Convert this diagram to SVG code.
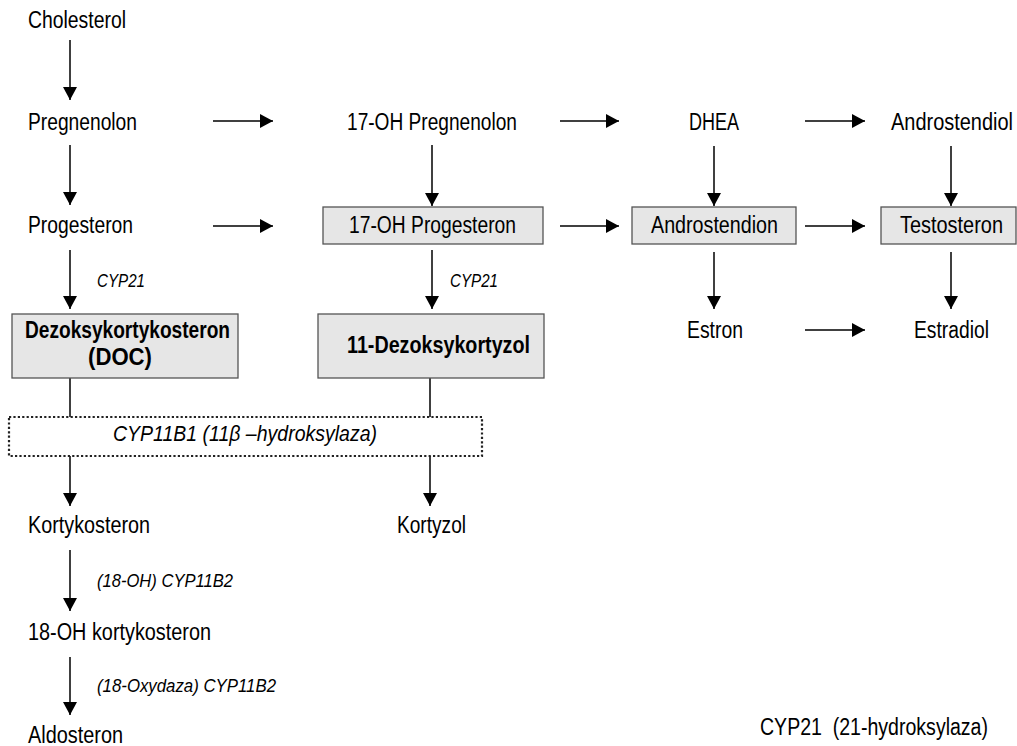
<svg xmlns="http://www.w3.org/2000/svg" width="1017" height="746" viewBox="0 0 1017 746">
<defs>
<style>
text{font-family:"Liberation Sans","Arial",sans-serif;font-size:23px;fill:#000}
.b{font-weight:bold}
.i{font-style:italic;font-size:19px}
.m{text-anchor:middle}
.box{fill:#e6e6e6;stroke:#555;stroke-width:1.3}
.dot{fill:none;stroke:#222;stroke-width:2.2;stroke-dasharray:2.2 2.2}
.c line{stroke:#000;stroke-width:1.5}
.c .a{marker-end:url(#ah)}
</style>
<marker id="ah" markerUnits="userSpaceOnUse" markerWidth="14" markerHeight="14" refX="13" refY="7" orient="auto">
<path d="M0,0 L13,7 L0,14 z" fill="#000"/>
</marker>
</defs>
<g class="c" id="connectors">
<line class="a" x1="70" y1="40" x2="70" y2="100"/>
<line class="a" x1="70" y1="145" x2="70" y2="205"/>
<line class="a" x1="70" y1="250" x2="70" y2="309"/>
<line class="a" x1="432" y1="145" x2="432" y2="206"/>
<line class="a" x1="432" y1="250" x2="432" y2="309"/>
<line class="a" x1="714" y1="146" x2="714" y2="206"/>
<line class="a" x1="714" y1="252" x2="714" y2="309"/>
<line class="a" x1="951" y1="146" x2="951" y2="206"/>
<line class="a" x1="951" y1="252" x2="951" y2="309"/>
<line class="a" x1="213" y1="121" x2="273" y2="121"/>
<line class="a" x1="560" y1="121" x2="619" y2="121"/>
<line class="a" x1="805" y1="121" x2="865" y2="121"/>
<line class="a" x1="213" y1="226" x2="273" y2="226"/>
<line class="a" x1="560" y1="226" x2="619" y2="226"/>
<line class="a" x1="805" y1="226" x2="865" y2="226"/>
<line class="a" x1="805" y1="330" x2="865" y2="330"/>
<line x1="70" y1="378" x2="70" y2="417"/>
<line x1="430" y1="378" x2="430" y2="417"/>
<line class="a" x1="70" y1="456" x2="70" y2="506"/>
<line class="a" x1="430" y1="456" x2="430" y2="506"/>
<line class="a" x1="70" y1="550" x2="70" y2="611"/>
<line class="a" x1="70" y1="657" x2="70" y2="715"/>
</g>
<g id="cholesterol"><text x="28" y="28" textLength="98" lengthAdjust="spacingAndGlyphs">Cholesterol</text></g>
<g id="pregnenolon"><text x="28" y="130" textLength="109" lengthAdjust="spacingAndGlyphs">Pregnenolon</text></g>
<g id="oh17-pregnenolon"><text x="347" y="130" textLength="170" lengthAdjust="spacingAndGlyphs">17-OH Pregnenolon</text></g>
<g id="dhea"><text x="689" y="130" textLength="50" lengthAdjust="spacingAndGlyphs">DHEA</text></g>
<g id="androstendiol"><text x="891" y="130" textLength="122" lengthAdjust="spacingAndGlyphs">Androstendiol</text></g>
<g id="progesteron"><text x="28" y="233" textLength="105" lengthAdjust="spacingAndGlyphs">Progesteron</text></g>
<g id="oh17-progesteron"><rect class="box" x="323" y="207" width="220" height="37"/><text x="349" y="233" textLength="167" lengthAdjust="spacingAndGlyphs">17-OH Progesteron</text></g>
<g id="androstendion"><rect class="box" x="632" y="207" width="164" height="37"/><text x="651" y="233" textLength="127" lengthAdjust="spacingAndGlyphs">Androstendion</text></g>
<g id="testosteron"><rect class="box" x="881" y="207" width="135" height="37"/><text x="900" y="233" textLength="103" lengthAdjust="spacingAndGlyphs">Testosteron</text></g>
<g id="estron"><text x="687" y="338" textLength="56" lengthAdjust="spacingAndGlyphs">Estron</text></g>
<g id="estradiol"><text x="914" y="338" textLength="75" lengthAdjust="spacingAndGlyphs">Estradiol</text></g>
<g id="doc"><rect class="box" x="12" y="314" width="226" height="64"/><text x="25" y="338" class="b" textLength="205" lengthAdjust="spacingAndGlyphs">Dezoksykortykosteron</text><text x="88" y="365" class="b" textLength="64" lengthAdjust="spacingAndGlyphs">(DOC)</text></g>
<g id="dezoksykortyzol"><rect class="box" x="318" y="314" width="226" height="64"/><text x="347" y="353" class="b" textLength="183" lengthAdjust="spacingAndGlyphs">11-Dezoksykortyzol</text></g>
<g id="label-cyp21-a"><text x="97" y="287" class="i" textLength="48" lengthAdjust="spacingAndGlyphs">CYP21</text></g>
<g id="label-cyp21-b"><text x="450" y="287" class="i" textLength="48" lengthAdjust="spacingAndGlyphs">CYP21</text></g>
<g id="cyp11b1"><rect class="dot" x="9" y="417" width="473" height="39"/><text x="113" y="441" class="i" style="font-size:22px" textLength="264" lengthAdjust="spacingAndGlyphs">CYP11B1 (11β –hydroksylaza)</text></g>
<g id="kortykosteron"><text x="28" y="533" textLength="122" lengthAdjust="spacingAndGlyphs">Kortykosteron</text></g>
<g id="kortyzol"><text x="397" y="533" textLength="69" lengthAdjust="spacingAndGlyphs">Kortyzol</text></g>
<g id="label-18oh"><text x="97" y="587" class="i" textLength="136" lengthAdjust="spacingAndGlyphs">(18-OH) CYP11B2</text></g>
<g id="oh18-kortykosteron"><text x="28" y="640" textLength="183" lengthAdjust="spacingAndGlyphs">18-OH kortykosteron</text></g>
<g id="label-18ox"><text x="97" y="692" class="i" textLength="179" lengthAdjust="spacingAndGlyphs">(18-Oxydaza) CYP11B2</text></g>
<g id="aldosteron"><text x="28" y="743" textLength="95" lengthAdjust="spacingAndGlyphs">Aldosteron</text></g>
<g id="legend"><text x="760" y="735" xml:space="preserve" textLength="228" lengthAdjust="spacingAndGlyphs">CYP21  (21-hydroksylaza)</text></g>
</svg>
